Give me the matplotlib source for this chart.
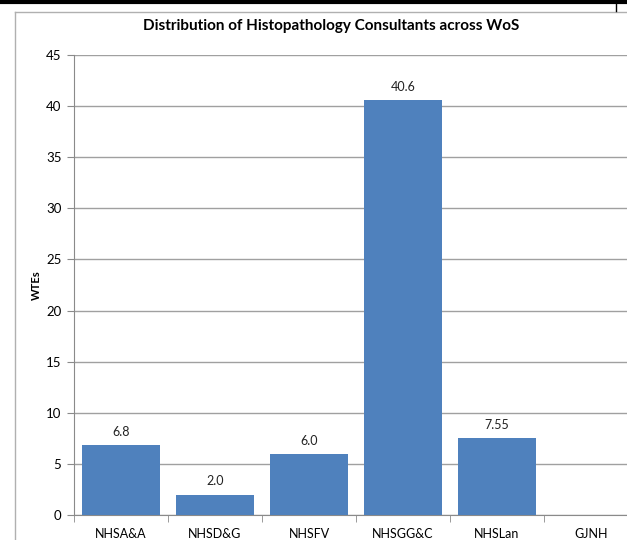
import matplotlib
matplotlib.use("Agg")
import matplotlib.pyplot as plt
from matplotlib.lines import Line2D
import numpy as np

categories = ['NHSA&A', 'NHSD&G', 'NHSFV', 'NHSGG&C', 'NHSLan', 'GJNH']
wtes = [6.8, 2.0, 6.0, 40.6, 7.55, 0.0]
value_labels = ['6.8', '2.0', '6.0', '40.6', '7.55', '']

plt.rcParams['font.family'] = ['Lato', 'DejaVu Sans']

fig = plt.figure(figsize=(6.27, 5.4), dpi=100)
# plot area runs past the right edge, as in the cropped original
ax = fig.add_axes([74 / 627, 25 / 540, 564 / 627, 460 / 540])

x = np.arange(len(categories))
bars = ax.bar(x, wtes, width=0.84, color='#4F81BD', zorder=3)
for b, lab in zip(bars, value_labels):
    if lab:
        ax.text(b.get_x() + b.get_width() / 2, b.get_height() + 0.7, lab,
                ha='center', va='bottom', fontsize=9, color='#222222')

ax.set_xlim(-0.5, len(categories) - 0.5)
ax.set_ylim(0, 45)
ax.set_yticks(np.arange(0, 46, 5))
ax.yaxis.grid(True, color='#a0a0a0', linewidth=1, zorder=0)
ax.tick_params(axis='y', length=5, color='#8a8a8a', labelsize=9.5, pad=4)

ax.set_xticks(x)
ax.set_xticklabels(categories, fontsize=9)
ax.set_xticks(np.arange(-0.5, len(categories), 1), minor=True)
ax.tick_params(axis='x', which='major', length=0, pad=9)
ax.tick_params(axis='x', which='minor', length=5, color='#8a8a8a')

for s in ['top', 'right']:
    ax.spines[s].set_visible(False)
ax.spines['left'].set_color('#8a8a8a')
ax.spines['bottom'].set_color('#8a8a8a')

ax.set_ylabel('WTEs', fontsize=8, fontweight='bold', labelpad=3)
fig.text(331 / 627, 1 - 26 / 540,
         'Distribution of Histopathology Consultants across WoS',
         ha='center', va='center', fontsize=11, fontweight='bold')

# chart frame and the black rule along the top
fig.add_artist(Line2D([15 / 627, 15 / 627], [0, 1 - 12 / 540], color='#b0b0b0', lw=1))
fig.add_artist(Line2D([15 / 627, 1], [1 - 12 / 540, 1 - 12 / 540], color='#b0b0b0', lw=1))
fig.add_artist(Line2D([0, 1], [1 - 2 / 540, 1 - 2 / 540], color='black', lw=3))
fig.add_artist(Line2D([616 / 627, 616 / 627], [1 - 11 / 540, 1], color='black', lw=1))

fig.savefig('out.png', dpi=100)
